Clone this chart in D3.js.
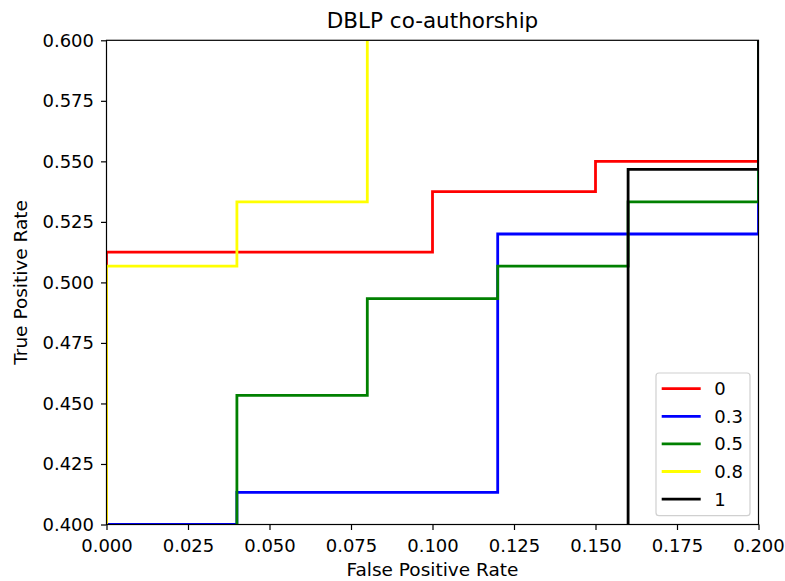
<!DOCTYPE html>
<html>
<head>
<meta charset="utf-8">
<script src="https://cdn.jsdelivr.net/npm/d3@7"></script>
<style>
  html, body { margin: 0; padding: 0; background: #fff; }
  svg { display: block; }
  text { font-family: "DejaVu Sans", sans-serif; fill: #000; }
</style>
</head>
<body>
<svg id="chart" width="785" height="581"></svg>
<script>
// ---- data ----
const title = "DBLP co-authorship";
const xLabel = "False Positive Rate";
const yLabel = "True Positive Rate";
const seriesNames = ["0", "0.3", "0.5", "0.8", "1"];
const seriesColors = ["#ff0000", "#0000ff", "#008000", "#ffff00", "#000000"];

const fpr0 = [0, 0, 0.10, 0.10, 0.15, 0.15, 0.20, 0.20];
const tpr0 = [0, 0.5125, 0.5125, 0.5375, 0.5375, 0.55, 0.55, 1];

const fpr03 = [0, 0, 0.04, 0.04, 0.12, 0.12, 0.20, 0.20];
const tpr03 = [0, 0.40, 0.40, 0.4133, 0.4133, 0.52, 0.52, 1];

const fpr05 = [0, 0.04, 0.04, 0.08, 0.08, 0.12, 0.12, 0.16, 0.16, 0.20, 0.20];
const tpr05 = [0, 0, 0.4533, 0.4533, 0.4933, 0.4933, 0.5067, 0.5067, 0.5333, 0.5333, 1];

const fpr08 = [0, 0, 0.04, 0.04, 0.08, 0.08];
const tpr08 = [0, 0.5067, 0.5067, 0.5333, 0.5333, 1];

const fpr1 = [0, 0.16, 0.16, 0.20, 0.20];
const tpr1 = [0, 0, 0.5467, 0.5467, 1];

const xTicks = [0, 0.025, 0.05, 0.075, 0.1, 0.125, 0.15, 0.175, 0.2];
const yTicks = [0.4, 0.425, 0.45, 0.475, 0.5, 0.525, 0.55, 0.575, 0.6];
const xDomain = [0, 0.2];
const yDomain = [0.4, 0.6];

const allFpr = [fpr0, fpr03, fpr05, fpr08, fpr1];
const allTpr = [tpr0, tpr03, tpr05, tpr08, tpr1];

// ---- layout ----
const mLeft = 106.5, mRight = 758.5, mTop = 40.3, mBottom = 524.5;
const tickFont = 18, labelFont = 18.5, titleFont = 21.5;

const svg = d3.select("#chart");
const x = d3.scaleLinear().domain(xDomain).range([mLeft, mRight]);
const y = d3.scaleLinear().domain(yDomain).range([mBottom, mTop]);

svg.append("defs").append("clipPath").attr("id", "clip")
  .append("rect").attr("x", mLeft).attr("y", mTop)
  .attr("width", mRight - mLeft).attr("height", mBottom - mTop);

const line = d3.line().x(d => x(d[0])).y(d => y(d[1]));
const gLines = svg.append("g").attr("clip-path", "url(#clip)");
seriesNames.forEach((name, i) => {
  const pts = allFpr[i].map((f, j) => [f, allTpr[i][j]]);
  gLines.append("path").datum(pts)
    .attr("d", line)
    .attr("fill", "none")
    .attr("stroke", seriesColors[i])
    .attr("stroke-width", 2.8)
    .attr("stroke-linejoin", "miter")
    .attr("stroke-linecap", "butt");
});

// axes
const xAxis = d3.axisBottom(x).tickValues(xTicks).tickFormat(d3.format(".3f")).tickSizeOuter(0).tickSize(5.5).tickPadding(9.5);
const yAxis = d3.axisLeft(y).tickValues(yTicks).tickFormat(d3.format(".3f")).tickSizeOuter(0).tickSize(5.5).tickPadding(7);

const gx = svg.append("g").attr("transform", `translate(0,${mBottom})`).call(xAxis);
const gy = svg.append("g").attr("transform", `translate(${mLeft},0)`).call(yAxis);
[gx, gy].forEach(g => {
  g.select(".domain").remove();
  g.selectAll(".tick line").attr("stroke", "#000").attr("stroke-width", 1.2);
  g.selectAll(".tick text").attr("font-size", tickFont).attr("fill", "#000")
    .style("font-family", "'DejaVu Sans', sans-serif");
});

// spines
svg.append("rect").attr("x", mLeft).attr("y", mTop)
  .attr("width", mRight - mLeft).attr("height", mBottom - mTop)
  .attr("fill", "none").attr("stroke", "#000").attr("stroke-width", 1.2);

// title and labels
svg.append("text").attr("x", (mLeft + mRight) / 2).attr("y", 28.3)
  .attr("text-anchor", "middle").attr("font-size", titleFont).text(title);
svg.append("text").attr("x", (mLeft + mRight) / 2).attr("y", 576)
  .attr("text-anchor", "middle").attr("font-size", labelFont).text(xLabel);
svg.append("text")
  .attr("transform", `translate(27,${(mTop + mBottom) / 2}) rotate(-90)`)
  .attr("text-anchor", "middle").attr("font-size", labelFont).text(yLabel);

// legend
const lg = svg.append("g");
const lx = 656, ly = 373, lw = 94, lh = 142.7, rowH = 27.6;
lg.append("rect").attr("x", lx).attr("y", ly).attr("width", lw).attr("height", lh)
  .attr("rx", 3).attr("ry", 3)
  .attr("fill", "rgba(255,255,255,0.8)").attr("stroke", "#d0d0d0").attr("stroke-width", 1.2);
seriesNames.forEach((name, i) => {
  const cy = 388.7 + i * rowH;
  lg.append("line").attr("x1", 661.7).attr("x2", 700.7).attr("y1", cy).attr("y2", cy)
    .attr("stroke", seriesColors[i]).attr("stroke-width", 2.8);
  lg.append("text").attr("x", 714.3).attr("y", cy).attr("dy", "0.36em")
    .attr("font-size", tickFont).text(name);
});
</script>
</body>
</html>
